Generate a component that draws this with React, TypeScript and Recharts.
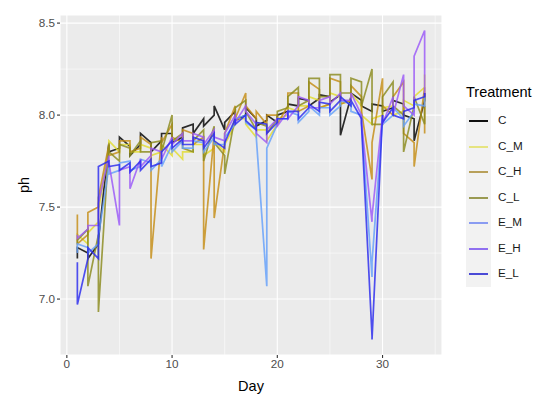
import React from 'react';
import { LineChart, Line, XAxis, YAxis, CartesianGrid, ReferenceLine } from 'recharts';

// --- DATA ---
const days = [1, 2, 3, 4, 5, 6, 7, 8, 9, 10, 11, 12, 13, 14, 15, 16, 17, 18, 19, 20, 21, 22, 23, 24, 25, 26, 27, 28, 29, 30, 31, 32, 33, 34];

// two readings per day for each treatment, drawn in this order
const cA = [7.22, 7.25, 7.30, 7.85, 7.82, 7.83, 7.84, 7.85, 7.86, 7.90, 7.88, 7.95, 7.98, 8.00, 7.92, 8.02, 8.00, 7.98, 7.97, 7.96, 8.02, 8.05, 8.08, 8.09, 8.10, 8.11, 8.10, 8.08, 8.02, 8.05, 8.04, 8.06, 7.98, 8.08];
const cB = [7.28, 7.22, 7.32, 7.80, 7.88, 7.78, 7.90, 7.80, 7.90, 7.85, 7.93, 7.90, 7.94, 8.05, 7.96, 7.97, 8.04, 7.94, 8.00, 8.00, 8.06, 8.09, 8.05, 8.11, 8.07, 7.89, 8.12, 8.05, 8.06, 8.02, 8.08, 8.00, 7.86, 8.12];

const cmA = [7.32, 7.30, 7.42, 7.82, 7.80, 7.84, 7.80, 7.82, 7.80, 7.78, 7.76, 7.80, 7.84, 7.82, 7.80, 7.95, 7.98, 7.88, 7.92, 7.95, 8.00, 8.02, 8.05, 8.08, 8.06, 8.10, 8.08, 8.05, 7.95, 8.00, 8.05, 8.02, 8.05, 8.15];
const cmB = [7.35, 7.36, 7.48, 7.86, 7.84, 7.80, 7.84, 7.78, 7.84, 7.82, 7.80, 7.84, 7.78, 7.86, 7.84, 7.98, 7.95, 7.92, 7.86, 7.98, 8.04, 8.05, 8.10, 8.04, 8.12, 8.06, 8.12, 8.00, 7.98, 8.04, 8.00, 8.08, 8.10, 8.22];

const chA = [7.46, 7.35, 7.50, 7.84, 7.80, 7.86, 7.82, 7.84, 7.88, 7.95, 7.85, 7.90, 7.88, 7.90, 7.85, 8.05, 8.12, 7.98, 7.95, 8.00, 8.05, 8.12, 8.05, 8.14, 8.06, 8.18, 8.08, 8.10, 7.65, 8.20, 8.00, 8.18, 7.85, 8.15];
const chB = [7.30, 7.47, 7.55, 7.78, 7.86, 7.80, 7.88, 7.22, 7.85, 7.88, 7.92, 7.84, 7.27, 7.44, 7.90, 7.98, 8.05, 8.02, 8.00, 7.95, 8.12, 8.02, 8.18, 8.04, 8.20, 8.06, 8.16, 8.02, 7.85, 8.05, 8.10, 7.90, 7.72, 7.90];

const clA = [7.30, 7.38, 7.35, 7.84, 7.75, 7.82, 7.86, 7.80, 7.86, 8.00, 7.90, 7.80, 7.92, 7.94, 7.78, 8.00, 8.08, 7.92, 7.94, 7.98, 8.04, 8.15, 8.08, 8.20, 8.10, 8.22, 8.12, 8.18, 8.25, 7.95, 8.18, 8.00, 8.05, 7.95];
const clB = [7.32, 7.07, 6.93, 7.80, 7.84, 7.78, 7.80, 7.85, 7.80, 7.86, 7.82, 7.86, 7.75, 7.85, 7.68, 8.04, 8.02, 7.96, 7.90, 8.02, 8.10, 8.05, 8.20, 8.10, 8.22, 8.12, 8.20, 8.05, 7.95, 8.10, 8.05, 7.80, 8.10, 8.05];

const emA = [7.25, 7.28, 7.30, 7.72, 7.70, 7.75, 7.72, 7.74, 7.76, 7.84, 7.86, 7.82, 7.85, 7.88, 7.84, 7.95, 8.00, 7.92, 7.07, 7.95, 7.98, 8.00, 8.02, 8.00, 8.04, 8.05, 8.06, 8.00, 7.12, 7.98, 8.00, 7.98, 8.02, 8.05];
const emB = [7.30, 7.25, 7.34, 7.68, 7.74, 7.70, 7.76, 7.70, 7.72, 7.80, 7.82, 7.86, 7.80, 7.84, 7.88, 7.98, 7.96, 7.88, 7.82, 7.98, 8.02, 7.96, 8.05, 8.04, 8.00, 8.08, 8.02, 7.96, 7.20, 7.95, 8.04, 7.94, 8.06, 8.10];

const ehA = [7.35, 7.38, 7.40, 7.78, 7.40, 7.72, 7.76, 7.78, 7.80, 7.88, 7.90, 7.86, 7.88, 7.92, 7.86, 8.00, 8.05, 7.95, 7.85, 7.98, 8.02, 8.05, 8.08, 8.04, 8.10, 8.12, 8.08, 8.00, 7.42, 8.00, 8.10, 8.22, 8.00, 8.46];
const ehB = [7.33, 7.40, 7.52, 7.74, 7.70, 7.60, 7.72, 7.82, 7.76, 7.84, 7.86, 7.90, 7.84, 7.88, 7.90, 7.96, 8.02, 7.90, 7.92, 7.94, 7.98, 8.10, 8.04, 8.08, 8.06, 8.08, 8.12, 7.96, 7.45, 7.95, 8.00, 8.05, 8.32, 8.10];

const elA = [7.20, 7.22, 7.22, 7.75, 7.73, 7.74, 7.75, 7.76, 7.74, 7.86, 7.87, 7.84, 7.86, 7.90, 7.82, 7.98, 8.00, 7.92, 7.95, 7.96, 7.98, 8.02, 8.04, 8.02, 8.06, 8.08, 8.05, 7.98, 6.80, 8.00, 8.04, 7.98, 8.04, 8.10];
const elB = [6.97, 7.28, 7.72, 7.72, 7.70, 7.69, 7.70, 7.72, 7.80, 7.82, 7.84, 7.88, 7.82, 7.86, 7.85, 7.95, 7.97, 7.96, 7.90, 7.98, 8.02, 7.98, 8.06, 8.07, 8.02, 8.10, 8.08, 7.95, 6.78, 7.96, 8.00, 8.02, 8.08, 8.12];

const treatments = ['C', 'C_M', 'C_H', 'C_L', 'E_M', 'E_H', 'E_L'];
const readings = [[cA, cB], [cmA, cmB], [chA, chB], [clA, clB], [emA, emB], [ehA, ehB], [elA, elB]];

const xTicks = [0, 10, 20, 30];
const yTicks = [7.0, 7.5, 8.0, 8.5];
const xMinor = [5, 15, 25, 35];
const yMinor = [7.25, 7.75, 8.25];

// --- STYLE ---
const COLORS = ['#000000', '#E2DC2E', '#C48C14', '#8A8A1C', '#64A0FA', '#9A58F8', '#2A2AEE'];
const LEGEND_COLORS = ['#111111', '#E6E480', '#B8A05A', '#9A9A52', '#8A9CF2', '#9070F0', '#4A4AD6'];
const FONT = '"Liberation Sans", Arial, sans-serif';

const series = treatments.map((name, i) => {
    const [a, b] = readings[i];
    const rows: { day: number; ph: number }[] = [];
    days.forEach((d, k) => {
        rows.push({ day: d, ph: a[k] });
        rows.push({ day: d, ph: b[k] });
    });
    return { name, color: COLORS[i], rows };
});

const LegendBox = () => (
    <div style={{ fontFamily: FONT, position: 'absolute', left: 466, top: 84, width: 90, height: 220 }}>
        <div style={{ position: 'absolute', left: 0, top: 0, fontSize: 14.5, color: '#000', lineHeight: '17px' }}>Treatment</div>
        <div style={{ position: 'absolute', left: 0, top: 24, width: 25, height: 179, background: '#F2F2F2' }} />
        {treatments.map((t, i) => (
            <div key={t} style={{ position: 'absolute', left: 0, top: 24 + i * 25.5, height: 25.5, width: 90 }}>
                <div style={{ position: 'absolute', left: 3, top: 12, width: 19, height: 2, background: LEGEND_COLORS[i] }} />
                <div style={{ position: 'absolute', left: 32, top: 5, fontSize: 11.7, color: '#1a1a1a', lineHeight: '14px' }}>{t}</div>
            </div>
        ))}
    </div>
);

export default function App() {
    return (
        <div style={{ position: 'relative', width: 550, height: 408, background: '#fff' }}>
            <style>{`body{margin:0}`}</style>
            <LineChart width={550} height={408} margin={{ top: 15, right: 108, left: 0, bottom: 0 }}>
                <CartesianGrid fill="#EBEBEB" fillOpacity={1} stroke="#FFFFFF" strokeWidth={1.1} />
                {xMinor.map(v => (
                    <ReferenceLine key={`vx${v}`} x={v} stroke="#FFFFFF" strokeWidth={0.55} />
                ))}
                {yMinor.map(v => (
                    <ReferenceLine key={`hy${v}`} y={v} stroke="#FFFFFF" strokeWidth={0.55} />
                ))}
                <XAxis
                    dataKey="day"
                    type="number"
                    domain={[-0.65, 35.65]}
                    allowDataOverflow
                    ticks={xTicks}
                    height={53}
                    axisLine={false}
                    tickSize={3}
                    tickMargin={2}
                    tickLine={{ stroke: '#333333', strokeWidth: 1.1 }}
                    tick={{ fontSize: 11.7, fill: '#4D4D4D', fontFamily: FONT }}
                />
                <YAxis
                    type="number"
                    domain={[6.696, 8.544]}
                    allowDataOverflow
                    ticks={yTicks}
                    width={60}
                    axisLine={false}
                    tickSize={3}
                    tickMargin={2}
                    tickLine={{ stroke: '#333333', strokeWidth: 1.1 }}
                    tickFormatter={(v: number) => v.toFixed(1)}
                    tick={{ fontSize: 11.7, fill: '#4D4D4D', fontFamily: FONT }}
                />
                {series.map(s => (
                    <Line
                        key={s.name}
                        name={s.name}
                        data={s.rows}
                        dataKey="ph"
                        type="linear"
                        stroke={s.color}
                        strokeOpacity={0.82}
                        strokeWidth={1.7}
                        dot={false}
                        activeDot={false}
                        isAnimationActive={false}
                    />
                ))}
            </LineChart>
            <LegendBox />
            <div style={{ position: 'absolute', left: 251, top: 378, transform: 'translateX(-50%)', fontFamily: FONT, fontSize: 14.5, color: '#000' }}>Day</div>
            <div style={{ position: 'absolute', left: 24, top: 185, transform: 'translate(-50%, -50%) rotate(-90deg)', fontFamily: FONT, fontSize: 14.5, color: '#000' }}>ph</div>
        </div>
    );
}
